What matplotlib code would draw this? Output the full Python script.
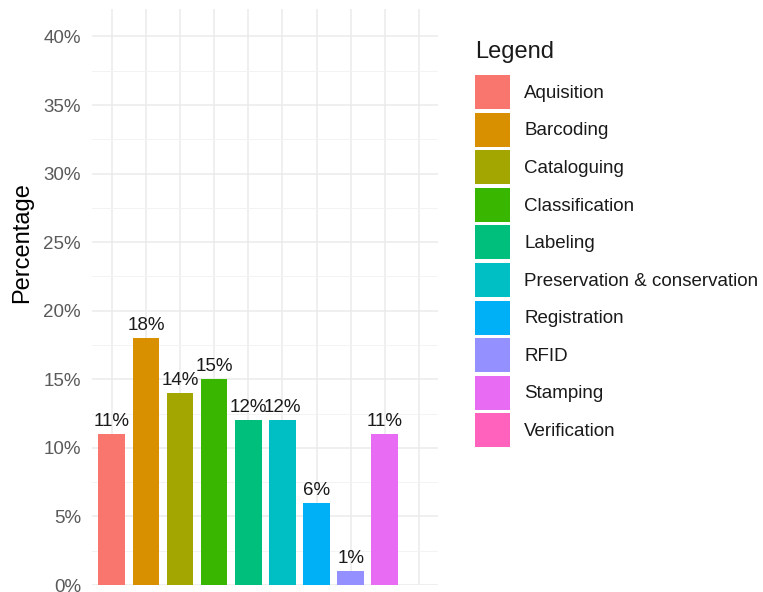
import matplotlib.pyplot as plt
import numpy as np
from matplotlib.patches import Patch

categories = ["Aquisition", "Barcoding", "Cataloguing", "Classification", "Labeling",
              "Preservation & conservation", "Registration", "RFID", "Stamping", "Verification"]
percentages = [11, 18, 14, 15, 12, 12, 6, 1, 11, 0]
colors = ["#F8766D", "#D89000", "#A3A500", "#39B600", "#00BF7D",
          "#00BFC4", "#00B0F6", "#9590FF", "#E76BF3", "#FF62BC"]
y_ticks = [0, 5, 10, 15, 20, 25, 30, 35, 40]

plt.rcParams['font.family'] = ['Liberation Sans', 'DejaVu Sans']

fig = plt.figure(figsize=(7.63, 5.92), dpi=100)
ax = fig.add_axes([92 / 763, 7 / 592, (438 - 92) / 763, (585 - 9) / 592])

x = np.arange(1, len(categories) + 1)
ax.bar(x, percentages, width=0.78, color=colors, zorder=2)
for xi, v in zip(x, percentages):
    if v > 0:
        ax.text(xi, v + 0.3, "%d%%" % v, ha="center", va="bottom", fontsize=13.5,
                color="#1a1a1a", zorder=3)

ax.set_xlim(0.42, 10.56)
ax.set_ylim(0, 42)
ax.set_xticks(x)
ax.set_xticklabels([])
ax.set_yticks(y_ticks)
ax.set_yticklabels(["%d%%" % t for t in y_ticks], fontsize=13.5, color="#5a5a5a")
ax.set_yticks(np.arange(2.5, 42, 5), minor=True)
ax.tick_params(length=0, which="both", pad=8)
ax.grid(True, which="major", color="#ebebeb", linewidth=1.1, zorder=0)
ax.grid(True, which="minor", axis="y", color="#f3f3f3", linewidth=0.7, zorder=0)
for s in ax.spines.values():
    s.set_visible(False)
ax.set_ylabel("Percentage", fontsize=17)
ax.yaxis.set_label_coords(-0.17, 0.594)

# legend: title placed separately so the gap to the keys matches
fig.text(475 / 763, 1 - 58 / 592, "Legend", fontsize=17, va="baseline", ha="left",
         color="#1a1a1a")
handles = [Patch(facecolor=c, edgecolor="none") for c in colors]
leg = fig.legend(handles, categories, loc="upper left",
                 bbox_to_anchor=(475 / 763, 1 - 75 / 592), frameon=False,
                 borderpad=0, borderaxespad=0,
                 fontsize=13.5, handlelength=1.87, handleheight=2.415,
                 handletextpad=0.75, labelspacing=0.19)
for t in leg.get_texts():
    t.set_color("#1a1a1a")

fig.savefig("out.png", dpi=100)
